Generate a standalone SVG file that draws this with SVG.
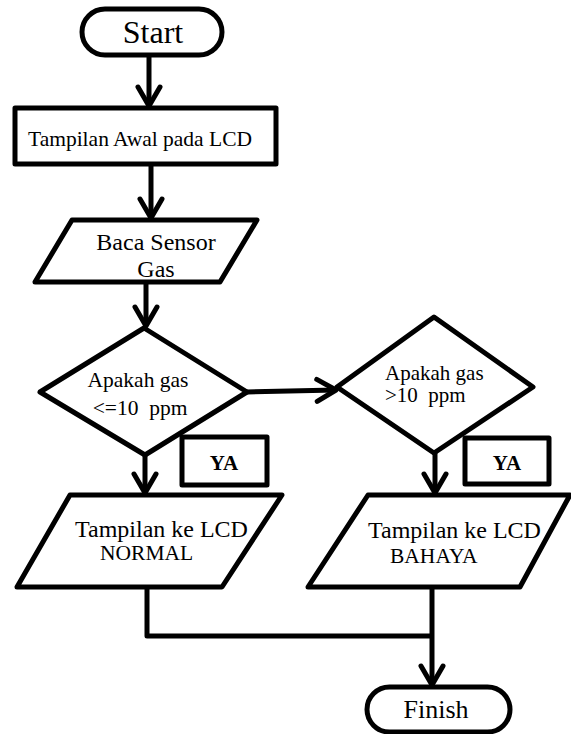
<svg xmlns="http://www.w3.org/2000/svg" width="571" height="734" viewBox="0 0 571 734">
<style>
.s{fill:#fff;stroke:#000;stroke-width:5;stroke-linejoin:round}
.c{fill:none;stroke:#000;stroke-width:5;stroke-linejoin:round}
</style>
<defs>
<marker id="a" markerUnits="userSpaceOnUse" markerWidth="40" markerHeight="40" viewBox="-25 -20 40 40" refX="0" refY="0" orient="auto" overflow="visible">
<path d="M-19,-11 L0,0 L-19,11" fill="none" stroke="#000" stroke-width="5" stroke-linecap="round" stroke-linejoin="round"/>
</marker>
</defs>
<g id="connectors">
<line class="c" x1="149" y1="55" x2="149" y2="106" marker-end="url(#a)"/>
<line class="c" x1="151" y1="164" x2="151" y2="218" marker-end="url(#a)"/>
<line class="c" x1="146" y1="282" x2="146" y2="326" marker-end="url(#a)"/>
<line class="c" x1="247" y1="392" x2="336" y2="390" marker-end="url(#a)"/>
<line class="c" x1="145" y1="455" x2="145" y2="493" marker-end="url(#a)"/>
<line class="c" x1="435" y1="453" x2="435" y2="493" marker-end="url(#a)"/>
<polyline class="c" points="147,587 147,636 432,636"/>
<line class="c" x1="432" y1="587" x2="432" y2="685" marker-end="url(#a)"/>
</g>
<g id="nodes" font-family="Liberation Serif, serif" fill="#000">
<g id="start">
<rect class="s" x="82" y="9" width="140" height="46" rx="23"/>
<text x="153" y="43" font-size="32" text-anchor="middle">Start</text>
</g>
<g id="tampilan-awal">
<rect class="s" x="15" y="108" width="261" height="56"/>
<text x="28" y="146" font-size="21.5">Tampilan Awal pada LCD</text>
</g>
<g id="baca-sensor">
<polygon class="s" points="72,220 257,220 220,282 35,282"/>
<text x="156" y="250" font-size="24" text-anchor="middle">Baca Sensor</text>
<text x="156" y="277" font-size="24" text-anchor="middle">Gas</text>
</g>
<g id="cek-normal">
<polygon class="s" points="144,328 247,392 145,455 40,392"/>
<text x="138" y="387" font-size="21.5" text-anchor="middle">Apakah gas</text>
<text x="140" y="415" font-size="21.5" text-anchor="middle" xml:space="preserve">&lt;=10  ppm</text>
</g>
<g id="cek-bahaya">
<polygon class="s" points="434,317 533,387 434,453 337,387"/>
<text x="385" y="380" font-size="21">Apakah gas</text>
<text x="385" y="402" font-size="21" xml:space="preserve">&gt;10  ppm</text>
</g>
<g id="ya-1">
<rect class="s" x="182" y="437" width="85" height="48"/>
<text x="224" y="470" font-size="21" font-weight="bold" text-anchor="middle">YA</text>
</g>
<g id="ya-2">
<rect class="s" x="465" y="438" width="84" height="46"/>
<text x="507" y="470" font-size="21" font-weight="bold" text-anchor="middle">YA</text>
</g>
<g id="lcd-normal">
<polygon class="s" points="70,495 282,495 222,587 17,587"/>
<text x="75" y="537" font-size="24">Tampilan ke LCD</text>
<text x="100" y="560" font-size="21.5">NORMAL</text>
</g>
<g id="lcd-bahaya">
<polygon class="s" points="368,495 570,495 520,587 308,587"/>
<text x="368" y="538" font-size="24">Tampilan ke LCD</text>
<text x="390" y="563" font-size="21.5">BAHAYA</text>
</g>
<g id="finish">
<rect class="s" x="367" y="687" width="143" height="45" rx="22.5"/>
<text x="436" y="718" font-size="26" text-anchor="middle">Finish</text>
</g>
</g>
</svg>
